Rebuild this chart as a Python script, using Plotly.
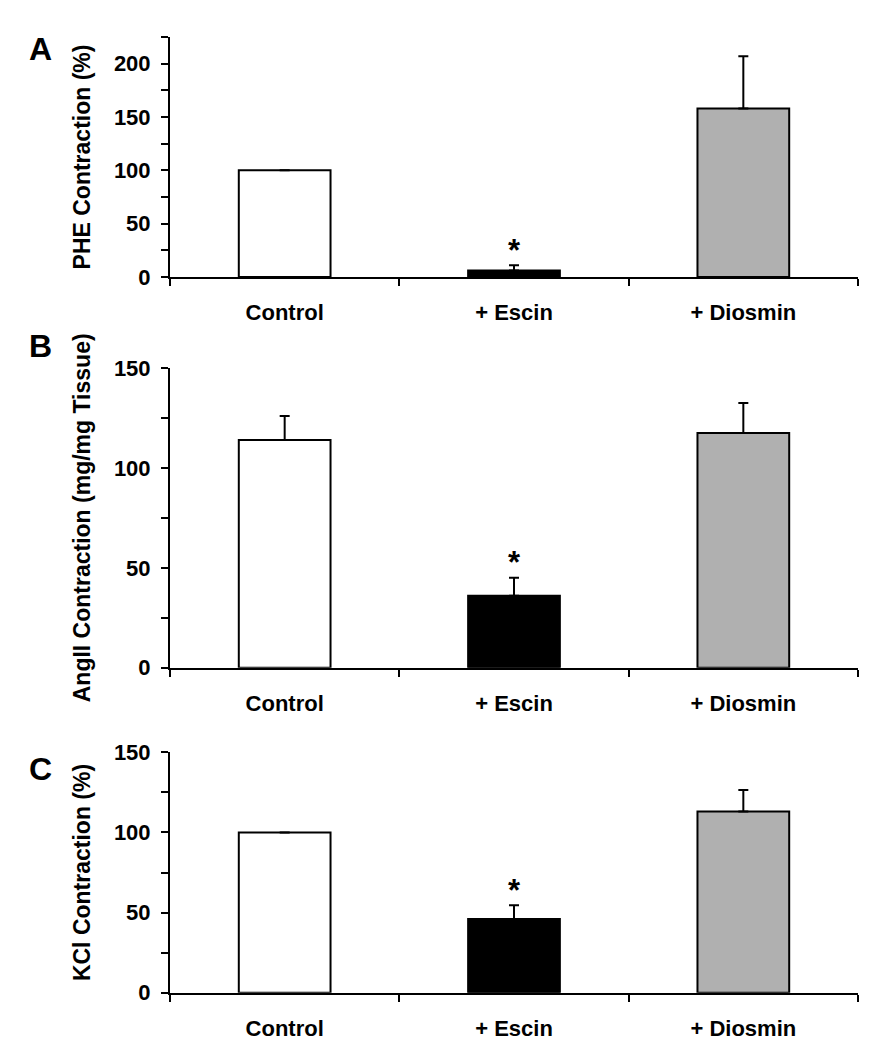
import plotly.graph_objects as go

categories = ["Control", "+ Escin", "+ Diosmin"]
bar_colors = ["#ffffff", "#000000", "#b0b0b0"]

phe_values = [100, 6, 158]
phe_errors = [0, 5, 49]

angii_values = [114, 36, 117.5]
angii_errors = [12, 9, 15]

kcl_values = [100, 46, 113]
kcl_errors = [0, 8.5, 13.5]

panel_letters = ["A", "B", "C"]
y_titles = ["PHE Contraction (%)", "AngII Contraction (mg/mg Tissue)", "KCl Contraction (%)"]
y_ranges = [[0, 225], [0, 150], [0, 150]]
y_tickvals = [[0, 50, 100, 150, 200], [0, 50, 100, 150], [0, 50, 100, 150]]

W, H = 881, 1050
x_dom = [170 / W, 858 / W]
# pixel top/bottom of each plot area
pix = [(37, 277), (368, 667.7), (752.3, 992.7)]
y_doms = [[1 - b / H, 1 - t / H] for t, b in pix]

FONT = "Liberation Sans, Arial, sans-serif"

fig = go.Figure()
datasets = [(phe_values, phe_errors), (angii_values, angii_errors), (kcl_values, kcl_errors)]

for i, (vals, errs) in enumerate(datasets):
    xa = "x" if i == 0 else f"x{i+1}"
    ya = "y" if i == 0 else f"y{i+1}"
    fig.add_trace(go.Bar(
        x=categories, y=vals, xaxis=xa, yaxis=ya,
        width=0.4,
        marker=dict(color=bar_colors, line=dict(color="black", width=2)),
        error_y=dict(type="data", array=errs, arrayminus=[0] * 3, symmetric=False,
                     color="black", thickness=2, width=5),
        showlegend=False,
    ))
    # significance asterisk on Escin
    fig.add_annotation(
        x=categories[1], y=vals[1] + errs[1], xref=xa, yref=ya,
        text="*", showarrow=False, yanchor="middle", yshift=15,
        font=dict(family=FONT, size=31, color="black", weight="bold"),
    )
    xkey = "xaxis" if i == 0 else f"xaxis{i+1}"
    ykey = "yaxis" if i == 0 else f"yaxis{i+1}"
    fig.update_layout(**{
        xkey: dict(
            domain=x_dom, anchor=ya, type="category", tickson="boundaries",
            showline=True, linecolor="black", linewidth=2,
            ticks="outside", ticklen=7, tickwidth=2, tickcolor="black",
            tickfont=dict(family=FONT, size=22, color="black", weight="bold"),
            ticklabelstandoff=15, showgrid=False, zeroline=False,
            range=[-0.5, 2.5], automargin=False,
        ),
        ykey: dict(
            domain=y_doms[i], anchor=xa, range=y_ranges[i],
            tickvals=y_tickvals[i],
            showline=True, linecolor="black", linewidth=2,
            ticks="outside", ticklen=7, tickwidth=2, tickcolor="black",
            minor=dict(ticks="outside", dtick=25, ticklen=7, tickwidth=2, tickcolor="black"),
            tickfont=dict(family=FONT, size=22, color="black", weight="bold"),
            ticklabelstandoff=6, showgrid=False, zeroline=False, automargin=False,
            title=dict(text=y_titles[i], standoff=17,
                       font=dict(family=FONT, size=23, color="black", weight="bold")),
        ),
    })

letter_pos = [49, 346, 769]
for letter, yp in zip(panel_letters, letter_pos):
    fig.add_annotation(
        x=40 / W, y=1 - yp / H, xref="paper", yref="paper",
        text=letter, showarrow=False, xanchor="center", yanchor="middle",
        font=dict(family=FONT, size=32, color="black", weight="bold"),
    )

fig.update_layout(
    width=W, height=H,
    margin=dict(l=0, r=0, t=0, b=0, autoexpand=False),
    paper_bgcolor="white", plot_bgcolor="white",
    bargap=0.6,
)

fig.write_html("out.html", config={"displayModeBar": False},
               post_script="document.body.style.margin='0';")
